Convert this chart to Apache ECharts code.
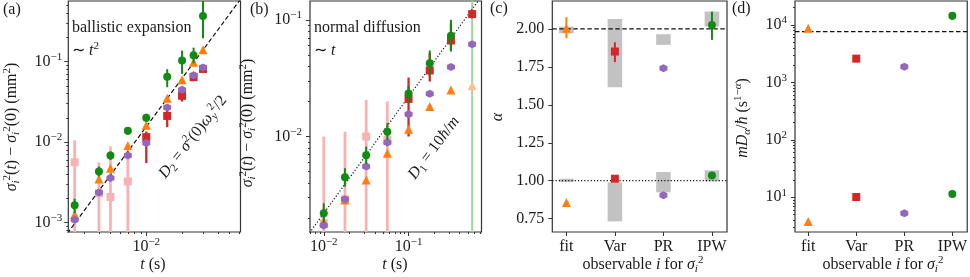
<!DOCTYPE html>
<html><head><meta charset="utf-8">
<script src="https://cdn.jsdelivr.net/npm/echarts@6/dist/echarts.min.js"></script>
<style>html,body{margin:0;padding:0;background:#fff}#c{width:970px;height:277px}</style>
</head><body><div id="c"></div>
<script>
// ---------------- data ----------------
// panel (a): ballistic expansion
const tA = [0.0025, 0.004, 0.005, 0.007, 0.01, 0.015, 0.02, 0.025, 0.03];
const aIPW   = [0.00163, 0.0043, 0.0068, 0.0138, 0.020, 0.0646, 0.103, 0.120, 0.37];
const aIPWlo = [0.00131, 0.00373, 0.0060, 0.0123, 0.0177, 0.048, 0.0703, 0.095, 0.195];
const aIPWhi = [0.00197, 0.00496, 0.00762, 0.0151, 0.0224, 0.0805, 0.137, 0.149, 1.0];
const aFit   = [0.00125, 0.00346, 0.00473, 0.00905, 0.0162, 0.0351, 0.0593, 0.098, 0.14];
const aPR    = [0.00108, 0.00236, 0.00356, 0.0068, 0.0097, 0.0268, 0.0445, 0.0678, 0.0842];
const tAvarL = [0.0025, 0.004, 0.005, 0.007];
const aVarL   = [0.0056, 0.0023, 0.00207, 0.00323];
const aVarLlo = [0.00001, 0.00001, 0.00001, 0.00001];
const aVarLhi = [0.0105, 0.0056, 0.0088, 0.0088];
const tAvar  = [0.01, 0.015, 0.02, 0.025, 0.03];
const aVar   = [0.0115, 0.0211, 0.0375, 0.064, 0.081];
const aVarlo = [0.00547, 0.0153, 0.0318, 0.058, 0.075];
const aVarhi = [0.0135, 0.0251, 0.0445, 0.0718, 0.089];
const aLineT = [0.002, 0.07];
const aLineY = [0.00062, 0.7595];

// panel (b): normal diffusion
const tB = [0.01, 0.01778, 0.03162, 0.05623, 0.1, 0.1778, 0.3162, 0.5623];
const tBipw  = [0.01, 0.01778, 0.03162, 0.05623, 0.1, 0.1778, 0.3162];
const bIPW   = [0.0022, 0.00448, 0.00692, 0.011, 0.0234, 0.0425, 0.073];
const bIPWlo = [0.00183, 0.00373, 0.00583, 0.00936, 0.0193, 0.0331, 0.0535];
const bIPWhi = [0.00268, 0.00535, 0.0082, 0.013, 0.0272, 0.0546, 0.100];
const tBipwL = [0.5623];
const bIPWLlo = [0.00001];
const bIPWLhi = [10];
const tBfit  = [0.01, 0.01778, 0.03162, 0.05623, 0.1, 0.1778, 0.3162];
const bFit   = [0.00187, 0.00286, 0.00425, 0.0072, 0.01157, 0.0181, 0.0251];
const tBfitL = [0.5623];
const bFitL  = [0.0272];
const bPR    = [0.00173, 0.0029, 0.00553, 0.0089, 0.0155, 0.0232, 0.0395, 0.0618];
const tBvarL = [0.01, 0.01778, 0.03162, 0.05623];
const bVarL   = [0.0018, 0.0029, 0.010, 0.0094];
const bVarLlo = [0.00001, 0.00001, 0.00001, 0.00001];
const bVarLhi = [0.010, 0.011, 0.0206, 0.020];
const tBvar  = [0.1, 0.1778, 0.3162, 0.5623];
const bVar   = [0.021, 0.0368, 0.0665, 0.112];
const bVarlo = [0.010, 0.0296, 0.055, 0.103];
const bVarhi = [0.032, 0.0518, 0.093, 0.122];
const bLineT = [0.005, 1.0];
const bLineY = [0.0011, 0.219];

// panel (c): alpha
const obs = ['fit', 'Var', 'PR', 'IPW'];
const cX = [0, 1, 2, 3];
const cBoxUpLo  = [1.971, 1.616, 1.895, 2.015];
const cBoxUpHi  = [2.015, 2.066, 1.965, 2.114];
const cBoxLowLo = [0.991, 0.732, 0.923, 0.996];
const cBoxLowHi = [1.013, 0.989, 1.057, 1.068];
const cUp    = [2.004, 1.851, 1.741, 2.026];
const cUpLo  = [1.939, 1.781, 1.741, 1.928];
const cUpHi  = [2.077, 1.912, 1.741, 2.114];
const cLow   = [0.857, 1.013, 0.904, 1.035];
const cRefBallistic = 2.0;
const cRefNormal = 1.0;

// panel (d): m D_alpha / hbar
const dUp  = [8750, 2594, 1882, 14540];
const dUpLo = [8750, 2594, 1882, 12220];
const dUpHi = [8750, 2594, 1882, 16400];
const dLow = [3.77, 10.1, 5.26, 11.4];
const dRef = 7650;

// tick labels
const aXmajor = [0.01], aYmajor = [0.001, 0.01, 0.1];
const bXmajor = [0.01, 0.1], bYmajor = [0.01, 0.1];
const cYticks = [0.75, 1.0, 1.25, 1.5, 1.75, 2.0];
const dYmajor = [10, 100, 1000, 10000];

// ---------------- style ----------------
const F = 'Liberation Serif';
const TC = '#1a1a1a';
const FR = '#333';
const COL = {fit:'#ff7f0e', Var:'#d62728', PR:'#9467bd', IPW:'#138a13',
             VarL:'#f7b3b3', IPWL:'#9fd69f', fitL:'#ffc08a'};
const HEX = 'path://M0,-10 L8.66,-5 L8.66,5 L0,10 L-8.66,5 L-8.66,-5 Z';
const R = {
  n:  {fontFamily:F, fontSize:16, color:TC, lineHeight:20},
  i:  {fontFamily:F, fontSize:16, fontStyle:'italic', color:TC, lineHeight:20},
  sp: {fontFamily:F, fontSize:11, color:TC, verticalAlign:'top', lineHeight:11},
  spi:{fontFamily:F, fontSize:11, fontStyle:'italic', color:TC, verticalAlign:'top', lineHeight:11},
  sb: {fontFamily:F, fontSize:11, color:TC, verticalAlign:'bottom', lineHeight:11},
  sbi:{fontFamily:F, fontSize:11, fontStyle:'italic', color:TC, verticalAlign:'bottom', lineHeight:11}
};
function logFmt(v){ const e = Math.round(Math.log10(v)); return '{n|10}{sp|' + (e<0 ? '\u2212'+(-e) : e) + '}'; }
function minors(lo, hi){
  const out = [];
  for (let e = Math.floor(Math.log10(lo)); e <= Math.ceil(Math.log10(hi)); e++)
    for (let m = 2; m <= 9; m++){ const v = m*Math.pow(10,e); if (v>=lo && v<=hi) out.push(v); }
  return out;
}
const RANGE = {
  a:{x:[0.00221,0.062], y:[0.00076,0.567]},
  b:{x:[0.00688,0.725], y:[0.00152,0.145]},
  c:{x:[-0.29,3.31], y:[0.662,2.184]},
  d:{x:[-0.275,3.31], y:[2.48,26200]}
};
function ax(dir, grid, type, rng, ticks, len, labels, fmt, margin){
  const o = {type, gridIndex:grid, min:rng[0], max:rng[1], position: dir==='x'?'bottom':'left', offset:0,
    axisLine:{show:false, onZero:false}, splitLine:{show:false}, minorTick:{show:false},
    axisTick:{show:true, customValues:ticks, length:len, lineStyle:{color:FR, width:1}},
    axisLabel: labels ? {show:true, customValues:ticks, formatter:fmt, rich:R, margin:margin, color:TC, fontFamily:F, fontSize:16}
                      : {show:false}};
  if (type==='log') o.logBase = 10;
  return o;
}
const catFmt = v => '{n|' + obs[Math.round(v)] + '}';
const numFmt = v => '{n|' + v.toFixed(2) + '}';

const xAxis = [
  ax('x',0,'log',RANGE.a.x,aXmajor,4,true,logFmt,5),
  ax('x',0,'log',RANGE.a.x,minors(RANGE.a.x[0],RANGE.a.x[1]),2,false),
  ax('x',1,'log',RANGE.b.x,bXmajor,4,true,logFmt,5),
  ax('x',1,'log',RANGE.b.x,minors(RANGE.b.x[0],RANGE.b.x[1]),2,false),
  ax('x',2,'value',RANGE.c.x,cX,4,true,catFmt,5),
  ax('x',3,'value',RANGE.d.x,cX,4,true,catFmt,5)
];
const yAxis = [
  ax('y',0,'log',RANGE.a.y,aYmajor,4,true,logFmt,6),
  ax('y',0,'log',RANGE.a.y,minors(RANGE.a.y[0],RANGE.a.y[1]),2,false),
  ax('y',1,'log',RANGE.b.y,bYmajor,4,true,logFmt,8),
  ax('y',1,'log',RANGE.b.y,minors(RANGE.b.y[0],RANGE.b.y[1]),2,false),
  ax('y',2,'value',RANGE.c.y,cYticks,4,true,numFmt,8),
  ax('y',3,'log',RANGE.d.y,dYmajor,4,true,logFmt,8),
  ax('y',3,'log',RANGE.d.y,minors(RANGE.d.y[0],RANGE.d.y[1]),2,false)
];

function sc(xi, yi, xs, ys, sym, size, color, z){
  return {type:'scatter', xAxisIndex:xi, yAxisIndex:yi, symbol:sym, symbolSize:size, z:z,
    itemStyle:{color:color, opacity:1}, silent:true, clip:true,
    data: xs.map((x,i)=>[x, ys[i]])};
}
function eb(xi, yi, xs, lo, hi, color, w, z){
  return {type:'custom', xAxisIndex:xi, yAxisIndex:yi, z:z, silent:true,
    data: xs.map((x,i)=>[x, lo[i], hi[i]]),
    renderItem:(params, api)=>{
      const cs = params.coordSys;
      const p1 = api.coord([api.value(0), api.value(1)]);
      const p2 = api.coord([api.value(0), api.value(2)]);
      const cl = y => Math.min(Math.max(y, cs.y), cs.y + cs.height);
      return {type:'line', shape:{x1:p1[0], y1:cl(p1[1]), x2:p2[0], y2:cl(p2[1])},
        style:{stroke:color, lineWidth:w}};
    }};
}
function box(xi, yi, xs, lo, hi, z){
  return {type:'custom', xAxisIndex:xi, yAxisIndex:yi, z:z, silent:true,
    data: xs.map((x,i)=>[x, lo[i], hi[i]]),
    renderItem:(params, api)=>{
      const p1 = api.coord([api.value(0)-0.15, api.value(2)]);
      const p2 = api.coord([api.value(0)+0.15, api.value(1)]);
      return {type:'rect', shape:{x:p1[0], y:p1[1], width:p2[0]-p1[0], height:p2[1]-p1[1]},
        style:{fill:'#c2c2c2'}};
    }};
}
function ln(xi, yi, xs, ys, dash, z){
  return {type:'line', xAxisIndex:xi, yAxisIndex:yi, z:z, silent:true, symbol:'none', clip:true,
    data: xs.map((x,i)=>[x, ys[i]]), lineStyle:{color:'#111', width:1.2, type:dash}};
}
const DASH = [4.5, 2.5], DOT = [1.2, 2];

const series = [
  // (a)
  ln(0,0,aLineT,aLineY,DASH,3),
  eb(0,0,tAvarL,aVarLlo,aVarLhi,COL.VarL,2.8,1),
  sc(0,0,tAvarL,aVarL,'rect',8,COL.VarL,2),
  eb(0,0,tAvar,aVarlo,aVarhi,COL.Var,2.3,4),
  sc(0,0,tAvar,aVar,'rect',8,COL.Var,5),
  sc(0,0,tA,aFit,'triangle',9,COL.fit,6),
  sc(0,0,tA,aPR,HEX,8,COL.PR,7),
  eb(0,0,tA,aIPWlo,aIPWhi,COL.IPW,2,8),
  sc(0,0,tA,aIPW,'circle',8,COL.IPW,9),
  // (b)
  ln(2,2,bLineT,bLineY,DOT,3),
  eb(2,2,tBipwL,bIPWLlo,bIPWLhi,COL.IPWL,2,1),
  eb(2,2,tBvarL,bVarLlo,bVarLhi,COL.VarL,2.8,1),
  sc(2,2,tBvarL,bVarL,'rect',8,COL.VarL,2),
  eb(2,2,tBvar,bVarlo,bVarhi,COL.Var,2.3,4),
  sc(2,2,tBvar,bVar,'rect',8,COL.Var,5),
  sc(2,2,tBfit,bFit,'triangle',9,COL.fit,6),
  sc(2,2,tBfitL,bFitL,'triangle',9,COL.fitL,6),
  sc(2,2,tB,bPR,HEX,8,COL.PR,7),
  eb(2,2,tBipw,bIPWlo,bIPWhi,COL.IPW,2,8),
  sc(2,2,tBipw,bIPW,'circle',8,COL.IPW,9),
  // (c)
  box(4,4,cX,cBoxUpLo,cBoxUpHi,1),
  box(4,4,cX,cBoxLowLo,cBoxLowHi,1),
  ln(4,4,[RANGE.c.x[0],RANGE.c.x[1]],[cRefBallistic,cRefBallistic],DASH,3),
  ln(4,4,[RANGE.c.x[0],RANGE.c.x[1]],[cRefNormal,cRefNormal],DOT,3)
];
// per observable markers for (c) and (d)
const cMarks = [['fit','triangle',9],['Var','rect',8],['PR',HEX,8],['IPW','circle',8]];
cMarks.forEach((m,k)=>{
  if (cUpHi[k] > cUpLo[k]) series.push(eb(4,4,[cX[k]],[cUpLo[k]],[cUpHi[k]],COL[m[0]],2,5));
  series.push(sc(4,4,[cX[k],cX[k]],[cUp[k],cLow[k]],m[1],m[2],COL[m[0]],6));
  if (dUpHi[k] > dUpLo[k]) series.push(eb(5,5,[cX[k]],[dUpLo[k]],[dUpHi[k]],COL[m[0]],2,5));
  series.push(sc(5,5,[cX[k],cX[k]],[dUp[k],dLow[k]],m[1],m[2],COL[m[0]],6));
});
series.push(ln(5,5,[RANGE.d.x[0],RANGE.d.x[1]],[dRef,dRef],DASH,3));

function txt(x, y, text, opt){
  opt = opt || {};
  return {type:'text', x:x, y:y, rotation:opt.rot||0, z:50, silent:true,
    style:{text:text, rich:R, fill:TC, font:'16px "Liberation Serif"', align:opt.align||'left', verticalAlign:opt.va||'middle'}};
}
const RAD = Math.PI/180;
const graphic = [
  txt(3,10,'{n|(a)}'), txt(250,10,'{n|(b)}'), txt(490,9,'{n|(c)}'), txt(732,9,'{n|(d)}'),
  txt(72,28,'{n|ballistic expansion}'),
  txt(72,51,'{n|\u223C }{i|t}{sp|2}'),
  txt(314,28,'{n|normal diffusion}'),
  txt(314,51,'{n|\u223C }{i|t}'),
  txt(193,137,'{i|D}{sb|2}{n| = }{i|\u03C3}{sp|2}{n|(0)}{i|\u03C9}{sbi|y}{sp|2}{n|/2}',{rot:52*RAD,align:'center'}),
  txt(434,148,'{i|D}{sb|1}{n| = 10}{i|\u0127}{n|/}{i|m}',{rot:53*RAD,align:'center'}),
  txt(12,127,'{i|\u03C3}{sbi|i}{sp|2}{n|(}{i|t}{n|) \u2212 }{i|\u03C3}{sbi|i}{sp|2}{n|(0) (mm}{sp|2}{n|)}',{rot:90*RAD,align:'center'}),
  txt(248,123,'{i|\u03C3}{sbi|i}{sp|2}{n|(}{i|t}{n|) \u2212 }{i|\u03C3}{sbi|i}{sp|2}{n|(0) (mm}{sp|2}{n|)}',{rot:90*RAD,align:'center'}),
  txt(498,117,'{i|\u03B1}',{rot:90*RAD,align:'center'}),
  txt(743,118,'{i|mD}{sbi|\u03B1}{n|/}{i|\u0127} {n|(s}{sp|1\u2212}{spi|\u03B1}{n|)}',{rot:90*RAD,align:'center'}),
  txt(153,265,'{i|t}{n| (s)}',{align:'center'}),
  txt(395,265,'{i|t}{n| (s)}',{align:'center'}),
  txt(643,265,'{n|observable }{i|i}{n| for }{i|\u03C3}{sbi|i}{sp|2}',{align:'center'}),
  txt(883,265,'{n|observable }{i|i}{n| for }{i|\u03C3}{sbi|i}{sp|2}',{align:'center'})
];

const gridBase = {show:true, borderColor:FR, borderWidth:1.2, backgroundColor:'transparent', containLabel:false};
const option = {
  animation:false,
  backgroundColor:'#fff',
  grid:[
    Object.assign({left:68.3, top:1, width:172.2, height:231}, gridBase),
    Object.assign({left:310, top:1, width:171.5, height:231}, gridBase),
    Object.assign({left:552.3, top:1, width:174.7, height:231}, gridBase),
    Object.assign({left:795, top:1, width:173.3, height:231}, gridBase)
  ],
  xAxis:xAxis, yAxis:yAxis, series:series, graphic:graphic
};
const chart = echarts.init(document.getElementById('c'), null, {renderer:'canvas'});
chart.setOption(option);
</script></body></html>
